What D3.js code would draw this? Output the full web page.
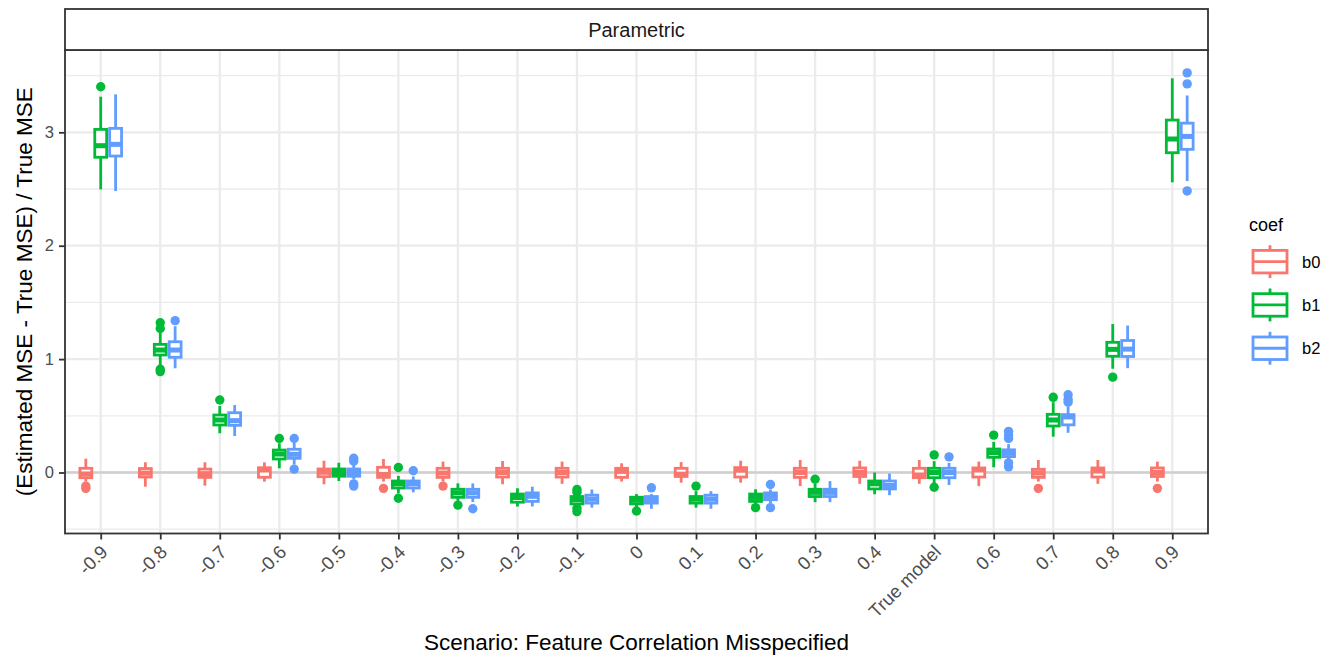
<!DOCTYPE html>
<html>
<head>
<meta charset="utf-8">
<script src="https://cdn.jsdelivr.net/npm/d3@7"></script>
<style>
  html, body { margin: 0; padding: 0; background: #ffffff; }
  svg { display: block; font-family: Arial, "Liberation Sans", sans-serif; }
</style>
</head>
<body>
<svg id="chart" width="1336" height="655"></svg>
<script>
// ---------------- DATA ----------------
const categories = ["-0.9","-0.8","-0.7","-0.6","-0.5","-0.4","-0.3","-0.2","-0.1","0",
                    "0.1","0.2","0.3","0.4","True model","0.6","0.7","0.8","0.9"];
const coefs = ["b0", "b1", "b2"];
const coefColors = ["#F8766D", "#00BA38", "#619CFF"];
const yTicks = [0, 1, 2, 3];
const yMinorTicks = [-0.5, 0.5, 1.5, 2.5, 3.5];
const stripLabel = "Parametric";
const xTitle = "Scenario: Feature Correlation Misspecified";
const yTitle = "(Estimated MSE - True MSE) / True MSE";
const legendTitle = "coef";

// five-number summaries per category: [lower whisker, q1, median, q3, upper whisker]
const b0Stats = [
  [-0.081,-0.046,-0.013,0.037,0.122],
  [-0.125,-0.040,-0.005,0.035,0.090],
  [-0.116,-0.043,-0.010,0.030,0.090],
  [-0.081,-0.042,0.022,0.042,0.090],
  [-0.104,-0.037,0.002,0.031,0.104],
  [-0.080,-0.043,-0.017,0.046,0.119],
  [-0.080,-0.043,-0.005,0.037,0.096],
  [-0.104,-0.040,0.000,0.037,0.101],
  [-0.100,-0.040,0.000,0.037,0.096],
  [-0.080,-0.043,0.010,0.037,0.081],
  [-0.090,-0.035,-0.015,0.037,0.092],
  [-0.090,-0.040,0.020,0.043,0.104],
  [-0.120,-0.043,0.000,0.037,0.110],
  [-0.100,-0.035,0.000,0.040,0.104],
  [-0.100,-0.046,-0.022,0.037,0.110],
  [-0.120,-0.040,0.022,0.040,0.096],
  [-0.080,-0.043,-0.005,0.028,0.110],
  [-0.100,-0.040,0.013,0.040,0.110],
  [-0.080,-0.035,0.000,0.040,0.096]
];
const b1Stats = [
  [2.497,2.780,2.882,3.026,3.314],
  [0.948,1.036,1.080,1.130,1.230],
  [0.346,0.419,0.463,0.507,0.586],
  [0.037,0.119,0.163,0.198,0.257],
  [-0.075,-0.033,0.000,0.031,0.086],
  [-0.183,-0.137,-0.100,-0.075,-0.030],
  [-0.250,-0.219,-0.180,-0.148,-0.096],
  [-0.300,-0.262,-0.220,-0.190,-0.139],
  [-0.300,-0.277,-0.240,-0.212,-0.190],
  [-0.310,-0.277,-0.245,-0.218,-0.190],
  [-0.310,-0.270,-0.235,-0.212,-0.165],
  [-0.275,-0.255,-0.220,-0.190,-0.148],
  [-0.262,-0.212,-0.175,-0.148,-0.100],
  [-0.192,-0.145,-0.100,-0.075,0.000],
  [-0.100,-0.046,0.000,0.037,0.100],
  [0.046,0.134,0.175,0.207,0.270],
  [0.316,0.410,0.463,0.513,0.620],
  [0.915,1.025,1.086,1.148,1.309],
  [2.559,2.820,2.941,3.108,3.476]
];
const b2Stats = [
  [2.482,2.791,2.894,3.035,3.335],
  [0.919,1.016,1.080,1.153,1.290],
  [0.322,0.416,0.457,0.527,0.595],
  [0.070,0.125,0.160,0.205,0.260],
  [-0.060,-0.033,0.000,0.031,0.070],
  [-0.175,-0.137,-0.100,-0.075,-0.035],
  [-0.260,-0.219,-0.180,-0.148,-0.096],
  [-0.300,-0.255,-0.210,-0.180,-0.125],
  [-0.310,-0.270,-0.235,-0.200,-0.150],
  [-0.320,-0.270,-0.240,-0.212,-0.190],
  [-0.320,-0.270,-0.235,-0.200,-0.165],
  [-0.270,-0.240,-0.210,-0.180,-0.150],
  [-0.262,-0.212,-0.175,-0.148,-0.076],
  [-0.200,-0.145,-0.115,-0.075,-0.010],
  [-0.110,-0.046,0.000,0.037,0.085],
  [0.110,0.140,0.170,0.200,0.250],
  [0.350,0.420,0.490,0.510,0.580],
  [0.920,1.023,1.088,1.164,1.296],
  [2.570,2.850,2.964,3.081,3.325]
];

// outliers per category
const b0Outliers = [[-0.12,-0.14],[],[],[],[],[-0.14],[-0.12],[],[],[],[],[],[],[],[],[],[-0.14],[],[-0.14]];
const b1Outliers = [[3.402],[1.32,1.27,0.91,0.89],[0.639],[0.30],[],[0.044,-0.227],[-0.288],[],
                    [-0.15,-0.175,-0.316,-0.345],[-0.34],[-0.12],[-0.31],[-0.06],[],[0.155,-0.13],
                    [0.33],[0.663],[0.841],[]];
const b2Outliers = [[],[1.339],[],[0.30,0.03],[0.125,0.10,-0.10,-0.12],[0.015],[-0.32],[],[],
                    [-0.135],[],[-0.106,-0.31],[],[],[0.138],[0.363,0.33,0.30,0.085,0.05],
                    [0.686,0.645,0.62],[],[3.524,3.427,2.483]];

const allStats = [b0Stats, b1Stats, b2Stats];
const allOutliers = [b0Outliers, b1Outliers, b2Outliers];

// ---------------- LAYOUT ----------------
const svg = d3.select("#chart");
const W = 1336, H = 655;
const P = { left: 65, right: 1208, top: 50, bottom: 533.5, stripTop: 9 };
const FONT = "Arial, 'Liberation Sans', sans-serif";

svg.append("rect").attr("width", W).attr("height", H).attr("fill", "#ffffff");

const x = d3.scalePoint().domain(categories).range([P.left, P.right]).padding(0.6);
const step = x.step();
const xSub = d3.scaleBand().domain(coefs).range([-0.375 * step, 0.375 * step]).paddingInner(0.2).paddingOuter(0.1);
const y = d3.scaleLinear().domain([-0.538, 3.726]).range([P.bottom, P.top]);

// panel background
svg.append("rect").attr("x", P.left).attr("y", P.top)
  .attr("width", P.right - P.left).attr("height", P.bottom - P.top).attr("fill", "#ffffff");

// grid
const grid = svg.append("g");
grid.selectAll("line.minor").data(yMinorTicks.filter(v => y(v) >= P.top && y(v) <= P.bottom))
  .enter().append("line")
  .attr("x1", P.left).attr("x2", P.right)
  .attr("y1", d => y(d)).attr("y2", d => y(d))
  .attr("stroke", "#EBEBEB").attr("stroke-width", 1.3);
grid.selectAll("line.majory").data(yTicks).enter().append("line")
  .attr("x1", P.left).attr("x2", P.right)
  .attr("y1", d => y(d)).attr("y2", d => y(d))
  .attr("stroke", "#EBEBEB").attr("stroke-width", 2.3);
grid.selectAll("line.majorx").data(categories).enter().append("line")
  .attr("x1", d => x(d)).attr("x2", d => x(d))
  .attr("y1", P.top).attr("y2", P.bottom)
  .attr("stroke", "#EBEBEB").attr("stroke-width", 2.3);

// zero reference line
svg.append("line").attr("x1", P.left).attr("x2", P.right)
  .attr("y1", y(0)).attr("y2", y(0))
  .attr("stroke", "#CFCFCF").attr("stroke-width", 2.5);

// ---------------- BOXES ----------------
const lw = 2.8;
const boxes = svg.append("g");
coefs.forEach((c, ci) => {
  const col = coefColors[ci];
  const g = boxes.append("g");
  categories.forEach((cat, i) => {
    const s = allStats[ci][i];
    const bw = xSub.bandwidth();
    const cx = x(cat) + xSub(c) + bw / 2;
    const bx = cx - bw / 2;
    g.append("line").attr("x1", cx).attr("x2", cx).attr("y1", y(s[3])).attr("y2", y(s[4]))
      .attr("stroke", col).attr("stroke-width", lw);
    g.append("line").attr("x1", cx).attr("x2", cx).attr("y1", y(s[1])).attr("y2", y(s[0]))
      .attr("stroke", col).attr("stroke-width", lw);
    g.append("rect").attr("x", bx).attr("y", y(s[3]))
      .attr("width", bw).attr("height", y(s[1]) - y(s[3]))
      .attr("fill", "#ffffff").attr("stroke", col).attr("stroke-width", lw);
    g.append("line").attr("x1", bx).attr("x2", bx + bw).attr("y1", y(s[2])).attr("y2", y(s[2]))
      .attr("stroke", col).attr("stroke-width", lw * 1.8);
    g.selectAll(null).data(allOutliers[ci][i]).enter().append("circle")
      .attr("cx", cx).attr("cy", d => y(d)).attr("r", 4.7).attr("fill", col);
  });
});

// panel border
svg.append("rect").attr("x", P.left).attr("y", P.top)
  .attr("width", P.right - P.left).attr("height", P.bottom - P.top)
  .attr("fill", "none").attr("stroke", "#333333").attr("stroke-width", 1.8);

// strip
svg.append("rect").attr("x", P.left).attr("y", P.stripTop)
  .attr("width", P.right - P.left).attr("height", P.top - P.stripTop)
  .attr("fill", "#ffffff").attr("stroke", "#333333").attr("stroke-width", 1.8);
svg.append("text").attr("x", (P.left + P.right) / 2).attr("y", (P.top + P.stripTop) / 2 + 7)
  .attr("text-anchor", "middle").attr("font-size", 20).attr("fill", "#1A1A1A").text(stripLabel);

// ---------------- AXES ----------------
const yAxis = svg.append("g").attr("transform", `translate(${P.left},0)`)
  .call(d3.axisLeft(y).tickValues(yTicks).tickFormat(d3.format("d")).tickSize(6).tickPadding(5));
yAxis.select(".domain").remove();
yAxis.selectAll(".tick line").attr("stroke", "#333333").attr("stroke-width", 1.8);
yAxis.selectAll(".tick text").attr("font-size", 16.5).attr("fill", "#4D4D4D").attr("font-family", FONT);

const xAxis = svg.append("g").attr("transform", `translate(0,${P.bottom})`)
  .call(d3.axisBottom(x).tickSize(6).tickPadding(4));
xAxis.select(".domain").remove();
xAxis.selectAll(".tick line").attr("stroke", "#333333").attr("stroke-width", 1.8);
xAxis.selectAll(".tick text")
  .attr("font-size", 18.5).attr("fill", "#4D4D4D")
  .attr("font-family", FONT)
  .attr("text-anchor", "end")
  .attr("dy", null)
  .attr("y", 0)
  .attr("transform", "translate(-2,10) rotate(-45)")
  .attr("dominant-baseline", "hanging");

// axis titles
svg.append("text").attr("x", (P.left + P.right) / 2).attr("y", 650)
  .attr("text-anchor", "middle").attr("font-size", 22.5).attr("fill", "#000000").text(xTitle);
svg.append("text").attr("transform", `translate(32,${(P.top + P.bottom) / 2}) rotate(-90)`)
  .attr("text-anchor", "middle").attr("font-size", 22.5).attr("fill", "#000000").text(yTitle);

// ---------------- LEGEND ----------------
const lg = svg.append("g");
lg.append("text").attr("x", 1249).attr("y", 231).attr("font-size", 18).attr("fill", "#000").text(legendTitle);
const keyH = 43.3, keyTop = 240, keyX = 1253, keyW = 34;
coefs.forEach((c, i) => {
  const cy = keyTop + keyH * i + keyH / 2;
  const col = coefColors[i];
  const cx = keyX + keyW / 2;
  lg.append("line").attr("x1", cx).attr("x2", cx).attr("y1", cy - keyH * 0.38).attr("y2", cy + keyH * 0.38)
    .attr("stroke", col).attr("stroke-width", lw);
  lg.append("rect").attr("x", keyX).attr("y", cy - keyH * 0.26).attr("width", keyW).attr("height", keyH * 0.52)
    .attr("fill", "#fff").attr("stroke", col).attr("stroke-width", lw);
  lg.append("line").attr("x1", keyX).attr("x2", keyX + keyW).attr("y1", cy).attr("y2", cy)
    .attr("stroke", col).attr("stroke-width", lw);
  lg.append("text").attr("x", 1302).attr("y", cy + 6).attr("font-size", 16.5).attr("fill", "#000").text(c);
});
</script>
</body>
</html>
